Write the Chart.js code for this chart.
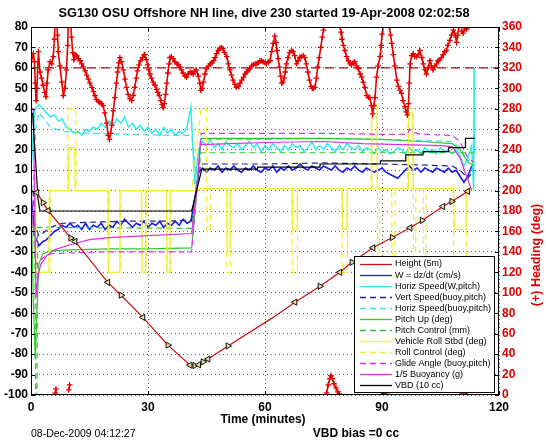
<!DOCTYPE html>
<html>
<head>
<meta charset="utf-8">
<script src="https://cdn.jsdelivr.net/npm/chart.js@4.4.0/dist/chart.umd.min.js"></script>
<style>
html, body { margin: 0; padding: 0; background: #fff; }
</style>
</head>
<body>
<canvas id="diveChart" width="546" height="442"></canvas>
<script>
// Textos del gráfico
const titleText = 'SG130 OSU Offshore NH line, dive 230 started 19-Apr-2008 02:02:58';
const xTitle = 'Time (minutes)';
const y2Title = '(+) Heading (deg)';
const dateText = '08-Dec-2009 04:12:27';
const biasText = 'VBD bias =0 cc';

// Minutos de la rejilla para las series con ruido
const tMin = [0,1,2,3,4,5,6,7,8,9,10,11,12,13,14,15,16,17,18,19,20,21,22,23,24,25,26,27,28,29,
  30,31,32,33,34,35,36,37,38,39,40,41,42,43,44,45,46,47,48,49,50,51,52,53,54,55,56,57,58,59,
  60,61,62,63,64,65,66,67,68,69,70,71,72,73,74,75,76,77,78,79,80,81,82,83,84,85,86,87,88,89,
  90,91,92,93,94,95,96,97,98,99,100,101,102,103,104,105,106,107,108,109,110,111,112,113];

// W = dz/dt (cm/s)
const wVals = [-2,-22,-27,-25,-24,-22,-20,-19,-17,-18,-16,-18,-17,-19,-16,-19,-17,-18,-16,-19,
  -17,-18,-15,-17,-14,-16,-18,-16,-17,-15,-18,-16,-17,-15,-18,-16,-17,-15,-17,-14,-16,-15,-4,9,
  11,9,11,10,12,9,11,10,12,10,9,11,10,12,10,9,11,10,12,9,11,10,12,10,11,13,11,10,12,11,10,12,
  11,10,12,10,9,11,10,12,10,9,11,10,9,10,11,9,8,7,6,8,10,12,10,11,9,11,10,9,11,10,9,11,9,10,7,4,7,12];

// Horiz Speed (W,pitch)
const hsVals = [10,40,42,40,38,36,37,34,35,31,30,28,29,27,30,29,31,30,33,31,34,32,35,33,36,31,
  33,30,32,29,31,28,30,27,31,28,30,27,29,28,31,41,3,20,24,22,25,21,23,20,24,22,21,23,20,22,24,
  21,23,19,22,20,23,21,19,22,20,23,21,22,19,21,24,20,22,20,23,21,19,22,20,23,21,20,22,19,21,20,
  18,21,19,20,18,19,21,20,18,21,19,20,18,21,19,20,18,21,19,20,18,20,17,12,16,22];
const hsTail = [[113, 22], [113.5, 0], [113.6, 60], [113.7, 18]];

// Altura (5 m)
const heightPts = [[0,0],[1.5,-1],[3.1,-5.9],[4.4,-9.8],[10.2,-23.2],[11.3,-24.9],[19.7,-44.9],
  [23.1,-51.2],[28.7,-62],[35.1,-75.6],[40.8,-85.4],[42,-85.6],[43,-85.2],[44.1,-83.8],[45.4,-82.4],
  [50.5,-76],[61.8,-62.4],[67.7,-54.6],[74.1,-46.8],[79.2,-40],[82.3,-35.1],[87.7,-28],[92.6,-23],
  [97.2,-18.2],[100.3,-14.6],[105.6,-7.8],[107.9,-5.3],[112,-0.4]];
const heightMarkDir = [0,-90,90,-90,90,-90,-90,90,-90,90,-90,90,-90,90,-90,90,0,-90,90,-90,90,-90,90,-90,90,-90,90,-90];

const vertBuoyPts = [[0.5,0],[1.2,-18],[2,-22],[3,-21],[5,-18],[8,-16],[15,-15.5],[25,-15],[35,-15],
  [41.2,-14.5],[42.3,0],[43.5,13],[60,13],[75,13.5],[90,13],[100,12.5],[108,12],[110,10],[112,6],[113.5,10]];
const horizBuoyPts = [[0.5,0],[1.2,30],[2,38],[3,36],[5,31],[8,29],[15,28],[25,27.5],[35,27],
  [41.2,27],[42.3,10],[43.5,25],[60,25],[75,25.5],[90,25],[100,24.5],[108,24],[110,21],[112,14],[113.5,18]];
const pitchUpPts = [[0,0],[0.6,-55],[1.1,-82],[1.5,-60],[2,-36],[3,-31],[5,-29.5],[10,-29],[20,-28.5],
  [30,-28.5],[41.2,-28],[42.5,0],[43.6,25.5],[60,25.5],[75,25.5],[90,25],[100,24],[108,23],[110,20],[112,14],[113.5,12]];
const pitchCtlPts = [[0,-18],[1.0,-18],[1.2,-110],[1.5,-110],[1.7,-18],[41.2,-18.5],[43.6,18.5],[113.5,18.5]];
const rollPts = [[0,0],[1.1,0],[1.2,-40],[4.6,-40],[4.7,0],[9.5,0],[9.6,21],[11.2,21],[11.3,0],[19.8,0],
  [19.9,-40],[22.7,-40],[22.8,0],[28.4,0],[28.5,-40],[29.3,-40],[29.4,0],[34.8,0],[34.9,-40],[35.6,-40],
  [35.7,0],[41.2,0],[43.6,1],[50.2,1],[50.3,-30],[51,-30],[51.1,1],[67,1],[67.1,-19],[68.2,-19],[68.3,1],
  [79.8,1],[79.9,-19],[81,-19],[81.1,1],[87.3,1],[87.4,41],[88.7,41],[88.8,1],[96.7,1],[96.8,38],[97.9,38],
  [98,1],[108.4,1],[108.5,-19],[111.5,-19],[111.6,1],[113.5,1]];
const rollCtlPts = [[0,0],[1.0,0],[1.1,-40],[4.9,-40],[5.0,0],[9.4,0],[9.5,40],[11.5,40],[11.6,0],[19.7,0],
  [19.8,-40],[22.9,-40],[23.0,0],[28.3,0],[28.4,-40],[29.5,-40],[29.6,0],[34.7,0],[34.8,-40],[35.8,-40],
  [35.9,0],[41.2,0],[43.6,40],[45,40],[45.1,-20],[46,-20],[46.1,1],[50.1,1],[50.2,-40],[51.1,-40],[51.2,1],
  [66.9,1],[67,-40],[68.3,-40],[68.4,1],[79.7,1],[79.8,-40],[81.1,-40],[81.2,1],[87.2,1],[87.3,42],[88.8,42],
  [88.9,-40],[89.3,-40],[89.4,1],[92.5,1],[92.6,-40],[93.3,-40],[93.4,1],[96.6,1],[96.7,40],[98,40],[98.1,-40],
  [98.6,-40],[98.7,1],[100.6,1],[100.7,-40],[101.2,-40],[101.3,1],[108.3,1],[108.4,-40],[111.6,-40],[111.7,1],[113.5,1]];
const glidePts = [[0,0],[0.6,-20],[1.2,-36],[2,-35],[3,-33],[5,-31],[10,-30.5],[20,-30],[30,-30],[41.2,-30],
  [42.5,0],[43.6,28],[60,28],[75,28],[90,27.5],[96.5,27.5],[97,30],[98,28.5],[100,27.5],[108,27],[110,24],[112,16],[113.5,14]];
const buoyPts = [[0,40],[0.6,40],[1.3,-52],[1.8,-42],[2.5,-36],[4,-32],[6,-29],[10,-26.5],[15,-24],[20,-23],
  [30,-22],[41.2,-21],[42.5,0],[43.4,22.5],[60,23.5],[75,24],[85,23],[95,22.5],[105,22],[108,21.5],[110,16],[111.5,8],[113,0]];
const vbdPts = [[0.4,38],[1.8,-4],[2.3,-10],[41.2,-10],[43.8,10.5],[58,10.5],[58.1,11.5],[74,11.5],[74.1,13],
  [89.5,13],[89.6,14.5],[96,14.5],[96.1,17.5],[100.5,17.5],[100.6,19],[107,19],[107.1,21],[111.3,21],[111.4,25.5],[113.8,25.5]];

// Rumbo (grados), null = salto por paso de 360
const headingPts = [[0.3,330],[0.6,334],[0.9,326],[1.1,305],[1.3,288],[1.5,300],[1.9,336],[2.3,316],[2.7,310],
  [3.1,303],[3.5,296],[3.8,292],[4.1,305],[4.4,318],[4.9,326],[5.3,324],[5.7,331],[6.0,348],[6.2,368],[6.2,null],
  [6.2,2],[6.4,6],[6.4,null],[6.6,366],[6.8,352],[7.0,336],[7.4,322],[7.9,306],[8.3,293],[8.7,300],[9.1,318],
  [9.4,342],[9.6,368],[9.6,null],[9.7,5],[9.9,10],[9.9,null],[10.1,372],[10.4,350],[10.7,335],[11.0,328],[11.3,333],
  [11.7,332],[12.2,329],[12.6,327],[13.0,324],[13.4,321],[13.9,317],[14.3,313],[14.7,309],[15.1,305],[15.6,301],
  [16.0,297],[16.4,293],[16.8,289],[17.3,287],[17.7,286],[18.1,285],[18.5,283],[18.9,276],[19.4,266],[19.8,254],
  [20.1,250],[20.4,256],[20.7,264],[21.1,278],[21.5,291],[21.9,305],[22.2,316],[22.5,325],[22.8,330],[23.2,326],
  [23.7,318],[24.1,309],[24.5,301],[24.9,294],[25.4,290],[25.8,288],[26.2,293],[26.6,301],[27.0,310],[27.3,317],
  [27.7,323],[28.1,327],[28.6,330],[29.0,333],[29.2,333],[29.6,328],[29.9,323],[30.2,318],[30.5,314],[30.9,310],
  [31.3,306],[31.8,303],[32.2,299],[32.5,296],[32.9,293],[33.3,288],[33.6,284],[33.9,281],[34.2,285],[34.5,294],
  [34.8,305],[35.1,315],[35.4,324],[35.6,330],[36.0,331],[36.4,329],[36.9,326],[37.4,324],[37.8,323],[38.2,321],
  [38.6,318],[39.0,315],[39.5,312],[39.9,311],[40.3,314],[40.8,316],[41.2,315],[41.6,314],[42.0,317],[42.4,318],
  [42.9,312],[43.3,305],[43.6,298],[43.9,300],[44.2,306],[44.6,314],[45.0,319],[45.5,322],[46.0,324],[46.4,325],
  [46.8,327],[47.2,330],[47.6,334],[48.0,337],[48.4,339],[48.8,340],[49.2,339],[49.6,335],[50.2,331],[50.6,324],
  [51.0,318],[51.4,313],[51.8,308],[52.3,304],[52.7,301],[53.2,302],[53.6,305],[54.0,308],[54.5,311],[54.9,314],
  [55.3,316],[55.7,318],[56.1,319],[56.6,322],[57.0,323],[57.5,324],[57.9,324],[58.3,325],[58.7,327],[59.1,327],
  [59.5,326],[60.0,325],[60.4,324],[60.9,326],[61.3,327],[61.7,336],[62.1,344],[62.5,351],[62.8,345],[63.1,337],
  [63.4,329],[63.7,321],[64.0,312],[64.3,305],[64.6,306],[64.9,310],[65.2,316],[65.5,324],[65.9,330],[66.3,335],
  [66.8,337],[67.2,336],[67.6,332],[68.1,324],[68.5,327],[68.9,330],[69.3,331],[69.8,332],[70.2,330],[70.6,324],
  [71.0,316],[71.4,308],[71.8,302],[72.1,300],[72.4,300],[72.8,301],[73.2,310],[73.5,321],[73.9,330],[74.3,340],
  [74.7,350],[75.0,357],[75.4,365],[75.4,null],[75.8,2],[76.2,10],[76.6,16],[76.9,19],[77.3,16],[77.7,11],[78.2,7],
  [78.7,3],[79.0,1],[79.0,null],[79.2,361],[79.5,355],[79.7,348],[80.1,342],[80.5,337],[80.9,331],[81.4,327],
  [81.8,324],[82.2,323],[82.6,325],[83.0,326],[83.5,322],[83.9,319],[84.4,314],[84.8,311],[85.2,306],[85.6,301],
  [86.1,293],[86.5,291],[86.9,291],[87.3,283],[87.6,275],[87.9,283],[88.2,291],[88.6,311],[89.0,322],[89.5,331],
  [89.8,342],[90.0,353],[90.2,363],[90.2,null],[90.4,1],[90.8,3],[91.2,2],[91.2,null],[91.7,362],[91.9,360],
  [92.2,352],[92.5,344],[92.9,333],[93.3,322],[93.8,308],[94.2,302],[94.6,298],[95.0,295],[95.4,288],[95.9,282],
  [96.2,277],[96.5,274],[96.8,285],[97.0,305],[97.2,324],[97.6,332],[98.0,334],[98.4,331],[98.9,331],[99.3,333],
  [99.7,337],[100.2,330],[100.6,324],[101.0,318],[101.4,314],[101.8,320],[102.3,327],[102.7,322],[103.1,318],
  [103.5,321],[104.0,324],[104.4,327],[104.8,328],[105.2,330],[105.7,333],[106.1,336],[106.5,337],[106.9,342],
  [107.4,347],[107.8,352],[108.3,357],[108.6,354],[108.9,350],[109.1,345],[109.4,352],[109.7,360],[110.0,362],
  [110.0,null],[110.0,4],[110.5,2],[111.0,6],[111.5,1],[111.5,null],[110.4,356],[110.8,354],[111.3,358],[111.7,358],
  [112.2,361],[112.6,363]];
const headingRef = [[0,320],[120,320]];

// Ejes
const xTicks = [0, 30, 60, 90, 120];
const yRange = [-100, 80];
const y2Range = [0, 360];

const pts = arr => arr.map(p => ({ x: p[0], y: p[1] }));
const onGrid = vals => vals.map((v, i) => ({ x: tMin[i], y: v }));

const FONT = '"Liberation Sans", Arial, Helvetica, sans-serif';

function lineSet(label, data, color, dash, order, width) {
    return {
        label: label,
        data: data,
        borderColor: color,
        backgroundColor: color,
        borderWidth: width || 1.2,
        borderDash: dash || [],
        pointRadius: 0,
        yAxisID: 'y',
        order: order,
        inLegend: true
    };
}

const datasets = [
    {
        label: 'Heading',
        data: pts(headingPts),
        yAxisID: 'y2',
        showLine: true,
        spanGaps: false,
        borderColor: '#e80000',
        borderWidth: 1.6,
        pointStyle: 'cross',
        pointRadius: 2.8,
        pointBorderColor: '#e80000',
        pointBorderWidth: 1.3,
        order: 0
    },
    {
        label: 'Heading ref',
        data: pts(headingRef),
        yAxisID: 'y2',
        borderColor: '#a01010',
        borderWidth: 1.2,
        borderDash: [9, 5],
        pointRadius: 0,
        order: 1
    },
    Object.assign(lineSet('Height (5m)', pts(heightPts), '#cc1010', null, 2), {
        pointStyle: 'triangle',
        pointRadius: heightMarkDir.map(d => d === 0 ? 0 : 3.6),
        pointRotation: heightMarkDir,
        pointBackgroundColor: '#e4dc98',
        pointBorderColor: '#111',
        pointBorderWidth: 1
    }),
    lineSet('W = dz/dt (cm/s)', onGrid(wVals), '#1a1ae0', null, 14, 1.6),
    lineSet('Horiz Speed(W,pitch)', onGrid(hsVals).concat(pts(hsTail)), '#30ecec', null, 13, 1.5),
    lineSet('Vert Speed(buoy,pitch)', pts(vertBuoyPts), '#202090', [6, 4], 12),
    lineSet('Horiz Speed(buoy,pitch)', pts(horizBuoyPts), '#40dede', [6, 4], 11),
    lineSet('Pitch Up (deg)', pts(pitchUpPts), '#30c830', null, 10),
    lineSet('Pitch Control (mm)', pts(pitchCtlPts), '#30c830', [6, 4], 9),
    lineSet('Vehicle Roll Stbd (deg)', pts(rollPts), '#f2ee30', null, 8),
    lineSet('Roll Control (deg)', pts(rollCtlPts), '#f2ee30', [6, 4], 7),
    lineSet('Glide Angle (buoy,pitch)', pts(glidePts), '#e030e0', [6, 4], 6),
    lineSet('1/5 Buoyancy (g)', pts(buoyPts), '#e030e0', null, 5),
    lineSet('VBD (10 cc)', pts(vbdPts), '#000000', null, 4)
];

/**
 * Plugin con marco, marcas, textos y leyenda estilo MATLAB
 */
const decorPlugin = {
    id: 'decor',
    afterDraw(chart) {
        const ctx = chart.ctx;
        const a = chart.chartArea;
        const ys = chart.scales.y;
        const xs = chart.scales.x;
        ctx.save();

        // Marco
        ctx.strokeStyle = '#000';
        ctx.lineWidth = 1;
        ctx.strokeRect(a.left + 0.5, a.top + 0.5, a.right - a.left - 1, a.bottom - a.top - 1);

        // Marcas interiores
        ctx.beginPath();
        for (let v = yRange[0]; v <= yRange[1]; v += 10) {
            const py = Math.round(ys.getPixelForValue(v)) + 0.5;
            ctx.moveTo(a.left, py); ctx.lineTo(a.left + 4, py);
            ctx.moveTo(a.right, py); ctx.lineTo(a.right - 4, py);
        }
        xTicks.forEach(t => {
            const px = Math.round(xs.getPixelForValue(t)) + 0.5;
            ctx.moveTo(px, a.bottom); ctx.lineTo(px, a.bottom - 4);
            ctx.moveTo(px, a.top); ctx.lineTo(px, a.top + 4);
        });
        ctx.stroke();

        // Textos
        ctx.fillStyle = '#000';
        ctx.textBaseline = 'middle';
        ctx.textAlign = 'center';
        ctx.font = 'bold 12.8px ' + FONT;
        ctx.fillText(titleText, 264, 13);
        ctx.font = 'bold 12px ' + FONT;
        ctx.fillText(xTitle, 263, 420);
        ctx.fillText(biasText, 356, 434);
        ctx.font = '10.5px ' + FONT;
        ctx.textAlign = 'left';
        ctx.fillText(dateText, 31, 434);

        ctx.save();
        ctx.translate(537, 255);
        ctx.rotate(-Math.PI / 2);
        ctx.textAlign = 'center';
        ctx.fillStyle = '#e00000';
        ctx.font = 'bold 12.5px ' + FONT;
        ctx.fillText(y2Title, 0, 0);
        ctx.restore();

        // Leyenda
        const lx = 354, ly = 256, lw = 140, lh = 136;
        ctx.fillStyle = '#fff';
        ctx.fillRect(lx, ly, lw, lh);
        ctx.strokeStyle = '#000';
        ctx.strokeRect(lx + 0.5, ly + 0.5, lw, lh);
        const items = chart.data.datasets.filter(d => d.inLegend);
        ctx.font = '9px ' + FONT;
        ctx.textAlign = 'left';
        items.forEach((d, i) => {
            const y = ly + 7.5 + i * 11.06;
            ctx.strokeStyle = d.borderColor;
            ctx.lineWidth = 1.3;
            ctx.setLineDash(d.borderDash || []);
            ctx.beginPath();
            ctx.moveTo(360, Math.round(y) + 0.5);
            ctx.lineTo(392, Math.round(y) + 0.5);
            ctx.stroke();
            ctx.setLineDash([]);
            ctx.fillStyle = '#000';
            ctx.fillText(d.label, 395, y + 0.5);
        });

        ctx.restore();
    }
};

new Chart(document.getElementById('diveChart'), {
    type: 'line',
    data: { datasets: datasets },
    plugins: [decorPlugin],
    options: {
        responsive: false,
        animation: false,
        events: [],
        layout: { padding: { top: 27, left: 0, right: 0, bottom: 0 } },
        plugins: {
            legend: { display: false },
            tooltip: { enabled: false },
            title: { display: false }
        },
        scales: {
            x: {
                type: 'linear',
                min: 0,
                max: 120,
                afterBuildTicks: scale => { scale.ticks = xTicks.map(v => ({ value: v })); },
                afterFit: scale => { scale.height = 47; },
                ticks: { color: '#000', font: { family: FONT, size: 12, weight: 'bold' }, padding: 5, maxRotation: 0 },
                grid: { color: 'rgba(0,0,0,0.6)', lineWidth: 1, drawTicks: false },
                border: { display: false, dash: [1, 3] }
            },
            y: {
                position: 'left',
                min: yRange[0],
                max: yRange[1],
                afterFit: scale => { scale.width = 31; },
                ticks: { stepSize: 10, color: '#000', font: { family: FONT, size: 12, weight: 'bold' }, padding: 3 },
                grid: { color: 'rgba(0,0,0,0.6)', lineWidth: 1, drawTicks: false },
                border: { display: false, dash: [1, 3] }
            },
            y2: {
                position: 'right',
                min: y2Range[0],
                max: y2Range[1],
                afterFit: scale => { scale.width = 47; },
                ticks: { stepSize: 20, color: '#e00000', font: { family: FONT, size: 12, weight: 'bold' }, padding: 3 },
                grid: { display: false, drawTicks: false },
                border: { display: false }
            }
        }
    }
});
</script>
</body>
</html>
